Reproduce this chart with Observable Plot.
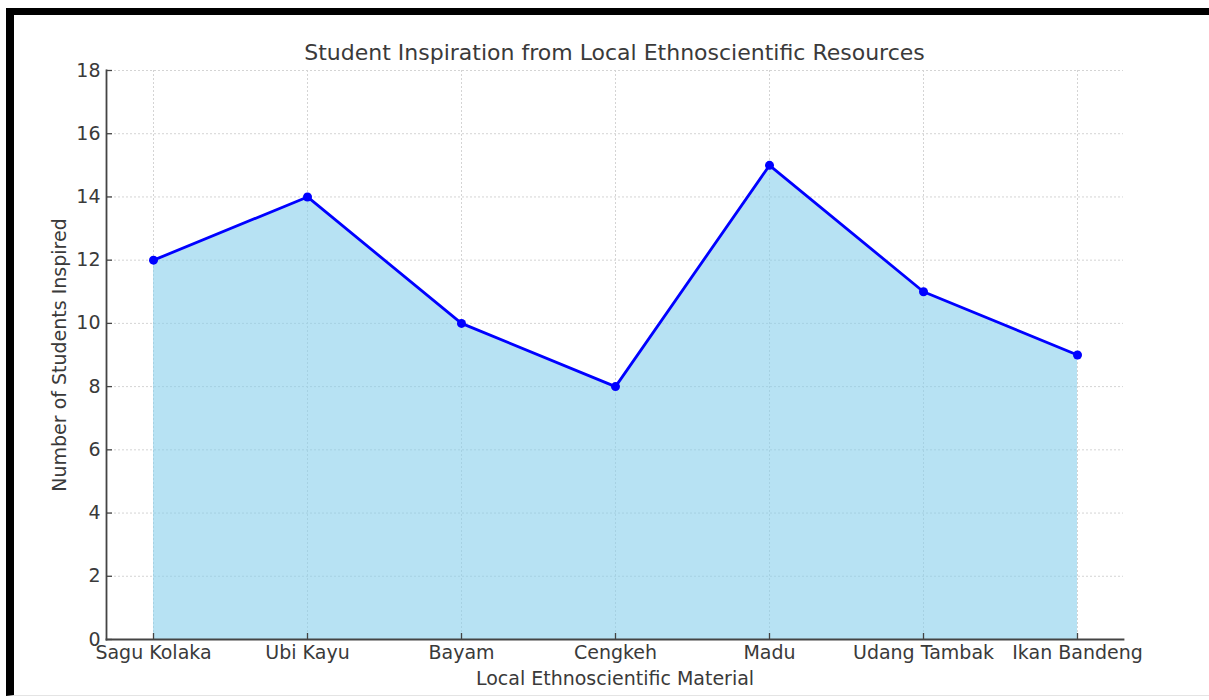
<!DOCTYPE html>
<html>
<head>
<meta charset="utf-8">
<script src="https://cdn.jsdelivr.net/npm/d3@7"></script>
<script src="https://cdn.jsdelivr.net/npm/@observablehq/plot@0.6"></script>
<style>
  html, body { margin: 0; padding: 0; background: #fff; }
  body { width: 1209px; height: 700px; position: relative; overflow: hidden; font-family: "DejaVu Sans", sans-serif; }
  #frame { position: absolute; left: 6px; top: 8px; width: 1209px; height: 688px; border-top: 7px solid #000; border-left: 8px solid #000; border-bottom: 1px solid #e4e4e4; box-sizing: border-box; }
  #title { position: absolute; top: 40px; left: 106px; width: 1017px; text-align: center; font-size: 22px; color: #3a3a3a; white-space: nowrap; }
  #chart { position: absolute; left: 0; top: 0; }
</style>
</head>
<body>
<div id="frame"></div>
<div id="chart"></div>
<div id="title">Student Inspiration from Local Ethnoscientific Resources</div>
<script>
const categories = ["Sagu Kolaka", "Ubi Kayu", "Bayam", "Cengkeh", "Madu", "Udang Tambak", "Ikan Bandeng"];
const students = [12, 14, 10, 8, 15, 11, 9];
const yTicks = [0, 2, 4, 6, 8, 10, 12, 14, 16, 18];

const data = categories.map((c, i) => ({category: c, value: students[i]}));

const W = 1209, H = 700;
const mL = 106, mR = 86, mT = 70, mB = 61;
const frameW = W - mL - mR, frameH = H - mT - mB;

const chart = Plot.plot({
  width: W,
  height: H,
  marginLeft: mL,
  marginRight: mR,
  marginTop: mT,
  marginBottom: mB,
  style: {fontFamily: "DejaVu Sans, sans-serif", fontSize: "19px", color: "#3a3a3a", background: "transparent", overflow: "visible"},
  x: {type: "point", domain: categories, padding: 0.3},
  y: {domain: [0, 18], ticks: yTicks},
  marks: [
    Plot.gridY(yTicks, {stroke: "#d4d4d4", strokeOpacity: 1, strokeDasharray: "2,2", strokeWidth: 1}),
    Plot.gridX(categories, {stroke: "#d4d4d4", strokeOpacity: 1, strokeDasharray: "2,2", strokeWidth: 1}),
    Plot.areaY(data, {x: "category", y: "value", fill: "skyblue", fillOpacity: 0.6}),
    Plot.lineY(data, {x: "category", y: "value", stroke: "#0000ff", strokeWidth: 2.8}),
    Plot.dot(data, {x: "category", y: "value", r: 4.5, fill: "#0000ff"}),
    Plot.tickY(yTicks, {y: d => d, stroke: "#444", strokeWidth: 1.3, insetRight: frameW - 6}),
    Plot.tickX(categories, {x: d => d, stroke: "#444", strokeWidth: 1.3, insetTop: frameH - 6}),
    Plot.frame({anchor: "left", stroke: "#444", strokeWidth: 1.8}),
    Plot.frame({anchor: "bottom", stroke: "#444", strokeWidth: 1.8}),
    Plot.axisY({ticks: yTicks, tickSize: 0, tickPadding: 6, fill: "#3a3a3a", label: "Number of Students Inspired", labelAnchor: "center", labelOffset: 54, labelArrow: "none"}),
    Plot.axisX({tickSize: 0, tickPadding: 6, fill: "#3a3a3a", label: "Local Ethnoscientific Material", labelAnchor: "center", labelOffset: 45, labelArrow: "none"})
  ]
});
document.getElementById("chart").appendChild(chart);
</script>
</body>
</html>
